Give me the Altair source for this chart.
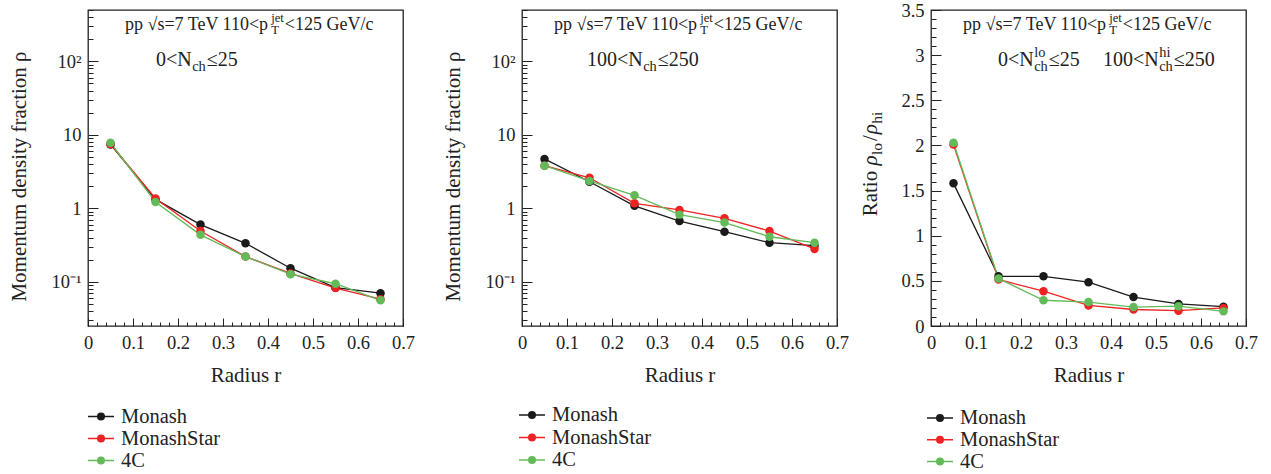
import altair as alt
import pandas as pd

# ---------------- data ----------------
radius = [0.05, 0.15, 0.25, 0.35, 0.45, 0.55, 0.65]
series = ["Monash", "MonashStar", "4C"]
colors = ["#1a1a1a", "#ee2222", "#62bb58"]

lo_monash = [7.4, 1.32, 0.60, 0.334, 0.153, 0.083, 0.070]
lo_star = [7.5, 1.36, 0.49, 0.22, 0.13, 0.082, 0.058]
lo_4c = [7.8, 1.22, 0.435, 0.22, 0.127, 0.094, 0.056]

hi_monash = [4.7, 2.3, 1.08, 0.67, 0.48, 0.34, 0.31]
hi_star = [3.8, 2.6, 1.17, 0.95, 0.73, 0.49, 0.28]
hi_4c = [3.8, 2.36, 1.5, 0.82, 0.64, 0.41, 0.34]

ratio_monash = [1.58, 0.55, 0.55, 0.485, 0.32, 0.245, 0.214]
ratio_star = [2.01, 0.515, 0.385, 0.228, 0.183, 0.17, 0.20]
ratio_4c = [2.03, 0.525, 0.285, 0.265, 0.21, 0.22, 0.162]

x_major = [0, 0.1, 0.2, 0.3, 0.4, 0.5, 0.6, 0.7]
x_minor = [round(i * 0.02, 2) for i in range(36)]
log_major = [0.1, 1, 10, 100]
log_minor = [0.03, 0.04, 0.05, 0.06, 0.07, 0.08, 0.09,
             0.2, 0.3, 0.4, 0.5, 0.6, 0.7, 0.8, 0.9,
             2, 3, 4, 5, 6, 7, 8, 9,
             20, 30, 40, 50, 60, 70, 80, 90, 200, 300, 400, 500]
lin_major = [0, 0.5, 1, 1.5, 2, 2.5, 3, 3.5]
lin_minor = [round(i * 0.1, 1) for i in range(36)]

# ---------------- style ----------------
SERIF = "Liberation Serif"
INK = "#222222"
W, H = 315, 316
TICK_F = 18.5
TITLE_F = 21

TNR = {' ': 250, 'p': 500, 's': 389, '=': 564, '7': 500, 'T': 611, 'e': 444,
       'V': 722, '1': 500, '0': 500, '<': 564, '2': 500, '5': 500, 'G': 722,
       '/': 278, 'c': 444, 'N': 722, '≤': 549, 'h': 500, 'l': 278, 'o': 500,
       'i': 278, 'j': 278, 't': 278, '√': 549, 'R': 667, 'a': 444, 'ρ': 500}


def tw(s, size):
    return sum(TNR.get(ch, 500) for ch in s) / 1000.0 * size


def make_df(a, b, c):
    rows = []
    for name, vals in zip(series, [a, b, c]):
        for r, v in zip(radius, vals):
            rows.append({"r": r, "v": v, "s": name})
    return pd.DataFrame(rows)


one = pd.DataFrame({"k": [0]})
legend_df = pd.DataFrame({"s": series})


def txt(s, x, y, size, angle=0, style="normal"):
    return alt.Chart(one).mark_text(
        text=s, align="left", baseline="alphabetic", font=SERIF,
        fontSize=size, color=INK, angle=angle, fontStyle=style
    ).encode(x=alt.value(x), y=alt.value(y))


def top_line(x0, y0, F=18):
    a = "pp √s=7 TeV 110<p"
    fs = F * 0.7
    xa = x0 + tw(a, F)
    return [txt(a, x0, y0, F),
            txt("T", xa + 0.5, y0 + 4, fs),
            txt("jet", xa + 0.5, y0 - 8, fs),
            txt("<125 GeV/c", xa + tw("jet", fs) + 1.5, y0, F)]


def n_line(x0, y0, lead, tail, sup=None, F=20):
    fs = F * 0.72
    xa = x0 + tw(lead, F)
    parts = [txt(lead, x0, y0, F), txt("ch", xa + 0.5, y0 + 5, fs)]
    wid = tw("ch", fs)
    if sup:
        parts.append(txt(sup, xa + 0.5, y0 - 9, fs))
        wid = max(wid, tw(sup, fs))
    parts.append(txt(tail, xa + wid + 1.5, y0, F))
    return parts


def color_enc():
    return alt.Color("s:N", scale=alt.Scale(domain=series, range=colors), legend=None)


def legend_layers(x_line, row_top, row_bottom):
    """ROOT-style legend: a short line with a marker, then the label."""
    ly = alt.Y("s:N", axis=None,
               scale=alt.Scale(type="point", domain=series, range=[row_top, row_bottom],
                               padding=0))
    base = alt.Chart(legend_df)
    seg = base.mark_rule(strokeWidth=1.5).encode(
        y=ly, x=alt.value(x_line), x2=alt.value(x_line + 26), color=color_enc())
    dot = base.mark_point(filled=True, size=64, opacity=1).encode(
        y=ly, x=alt.value(x_line + 13), color=color_enc())
    lab = base.mark_text(align="left", baseline="middle", font=SERIF, fontSize=20.5,
                         color=INK).encode(
        y=ly, x=alt.value(x_line + 33), text="s:N")
    return [seg, dot, lab]


def xaxis(major=True):
    if major:
        return alt.Axis(values=x_major, title="Radius r", tickSize=8, offset=-8,
                        domain=False, grid=False, labelPadding=7, labelFlush=False,
                        labelOverlap=False, labelFont=SERIF, labelFontSize=TICK_F,
                        labelColor=INK, tickColor=INK, tickWidth=1,
                        labelExpr="datum.value == 0 ? '0' : format(datum.value, '.1f')",
                        titleFont=SERIF, titleFontSize=TITLE_F, titleFontWeight="normal",
                        titleColor=INK, titleY=63, titleBaseline="alphabetic")
    return alt.Axis(values=x_minor, title=None, tickSize=4, offset=-4, domain=False,
                    grid=False, labels=False, tickColor=INK, tickWidth=1, orient="bottom")


def yaxis(major, vals, title=None, expr=None):
    if major:
        kw = dict(values=vals, tickSize=10, offset=-10, domain=False, grid=False,
                  labelPadding=7, labelFlush=False, labelOverlap=False,
                  labelFont=SERIF, labelFontSize=TICK_F, labelColor=INK,
                  tickColor=INK, tickWidth=1, labelExpr=expr)
        if title:
            kw.update(title=title, titleFont=SERIF, titleFontSize=TITLE_F,
                      titleFontWeight="normal", titleColor=INK, titleX=-79,
                      titleY=166, titleBaseline="middle")
        else:
            kw.update(title=None)
        return alt.Axis(**kw)
    return alt.Axis(values=vals, title=None, tickSize=5, offset=-5, domain=False,
                    grid=False, labels=False, tickColor=INK, tickWidth=1, orient="left")


LOG_EXPR = ("datum.value < 0.5 ? '10⁻¹' : datum.value > 50 ? '10²' : "
            "datum.value > 5 ? '10' : '1'")
LIN_EXPR = ("datum.value == 0 ? '0' : (datum.value % 1 == 0 ? format(datum.value, 'd') "
            ": format(datum.value, '.1f'))")


def panel(df, yscale, ymajor, yminor, ytitle, yexpr, leg, texts):
    base = alt.Chart(df)
    xs = alt.Scale(domain=[0, 0.7], nice=False, zero=False)
    lines = base.mark_line(strokeWidth=1.3).encode(
        x=alt.X("r:Q", scale=xs, axis=xaxis(True)),
        y=alt.Y("v:Q", scale=yscale, axis=yaxis(True, ymajor, ytitle, yexpr)),
        color=color_enc(),
        detail="s:N",
    )
    pts = base.mark_point(filled=True, size=72, opacity=1).encode(
        x=alt.X("r:Q", scale=xs, axis=xaxis(False)),
        y=alt.Y("v:Q", scale=yscale, axis=yaxis(False, yminor)),
        color=color_enc(),
    )
    return alt.layer(lines, pts, *texts, *legend_layers(*leg)).resolve_scale(
        y="independent"
    ).resolve_axis(
        x="independent", y="independent"
    ).properties(width=W, height=H,
                 view=alt.ViewBackground(stroke=INK, strokeWidth=1.3))


logscale = alt.Scale(type="log", domain=[0.025, 500], nice=False)
linscale = alt.Scale(domain=[0, 3.5], nice=False, zero=False)

p1 = panel(make_df(lo_monash, lo_star, lo_4c), logscale, log_major, log_minor,
           "Momentum density fraction ρ", LOG_EXPR, (0, 406.5, 450.5),
           top_line(37, 20) + n_line(68, 56, "0<N", "≤25"))

p2 = panel(make_df(hi_monash, hi_star, hi_4c), logscale, log_major, log_minor,
           "Momentum density fraction ρ", LOG_EXPR, (-3, 405, 450),
           top_line(32, 20) + n_line(65, 56, "100<N", "≤250"))

# rotated y title for the ratio panel
RF = 21
RS = 15.5
xb = -54
parts3 = []
pieces = [("Ratio ", RF, 0, "normal"), ("ρ", RF, 0, "italic"), ("lo", RS, 5, "normal"),
          ("/", RF, 0, "normal"), ("ρ", RF, 0, "italic"), ("hi", RS, 5, "normal")]
gaps = {"lo": 2, "hi": 2, "/": 1}
total = sum(tw(p, f) + gaps.get(p, 0) for p, f, _, _ in pieces)
y0 = 153 + total / 2
cur = y0
for p, f, dx, st in pieces:
    parts3.append(txt(p, xb + dx, cur, f, angle=270, style=st))
    cur -= tw(p, f) + gaps.get(p, 0)

p3 = panel(make_df(ratio_monash, ratio_star, ratio_4c), linscale, lin_major, lin_minor,
           None, LIN_EXPR, (-4, 408, 451.5),
           top_line(32, 20) + n_line(67, 56, "0<N", "≤25", sup="lo")
           + n_line(172, 56, "100<N", "≤250", sup="hi") + parts3)


def spacer(w):
    return alt.Chart(one).mark_point(opacity=0).encode(
        x=alt.X("k:Q", axis=None), y=alt.Y("k:Q", axis=None)
    ).properties(width=w, height=H)


chart = alt.hconcat(p1, spacer(118.7), p2, spacer(93.3), p3, spacing=0, bounds="flush")
chart = chart.resolve_scale(x="independent", y="independent", color="independent")
chart = chart.configure_view(stroke="transparent").properties(
    padding={"left": 7, "top": 0, "right": 5, "bottom": 0},
    background="white",
)

chart.save("out.html", embed_options={"renderer": "svg", "actions": False})
